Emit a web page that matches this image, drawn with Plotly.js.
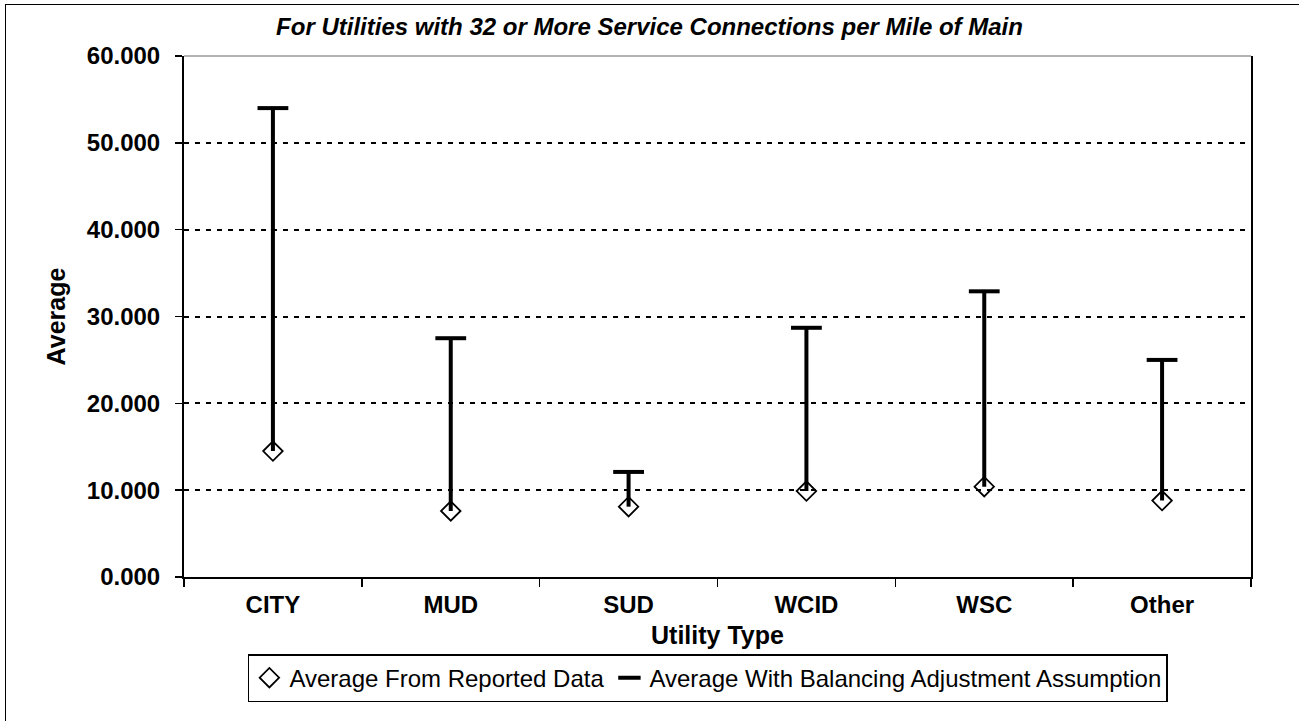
<!DOCTYPE html>
<html>
<head>
<meta charset="utf-8">
<script src="https://cdn.plot.ly/plotly-3.0.1.min.js"></script>
<style>
  html, body { margin: 0; padding: 0; background: #fff; }
  #wrap { position: relative; width: 1299px; height: 721px; overflow: hidden; }
  #chart { width: 1299px; height: 721px; }
  #frame { position: absolute; left: 5px; top: 4px; width: 1400px; height: 800px;
           border: 1.5px solid #000; pointer-events: none; box-sizing: border-box; }
</style>
</head>
<body>
<div id="wrap">
  <div id="chart"></div>
  <div id="frame"></div>
</div>
<script>
// ---- data ----
const categories = ['CITY', 'MUD', 'SUD', 'WCID', 'WSC', 'Other'];
const reportedAvg = [14.5, 7.6, 8.1, 9.9, 10.4, 8.8];
const balancingAvg = [54.0, 27.5, 12.1, 28.7, 32.9, 25.0];
const yTickVals = [0, 10, 20, 30, 40, 50, 60];
const seriesNames = ['Average From Reported Data', 'Average With Balancing Adjustment Assumption'];
const chartTitle = 'For Utilities with 32 or More Service Connections per Mile of Main';
const xTitle = 'Utility Type';
const yTitle = 'Average';

// high-low connector lines built from the data
const hlX = [], hlY = [];
categories.forEach((c, i) => {
  hlX.push(c, c, null);
  hlY.push(reportedAvg[i], balancingAvg[i], null);
});

const FONT = 'Arial, "Liberation Sans", sans-serif';

const traces = [
  {
    type: 'scatter', mode: 'lines', x: hlX, y: hlY,
    line: { color: '#000', width: 4 }, showlegend: false, hoverinfo: 'skip'
  },
  {
    type: 'scatter', mode: 'markers', name: seriesNames[0],
    x: categories, y: reportedAvg,
    marker: { symbol: 'diamond-open', size: 15, color: '#000', line: { color: '#000', width: 1.8 } }
  },
  {
    type: 'scatter', mode: 'markers', name: seriesNames[1],
    x: categories, y: balancingAvg,
    marker: { symbol: 'line-ew', size: 22, color: '#000', line: { color: '#000', width: 4 } }
  }
];

const layout = {
  width: 1299, height: 721,
  margin: { l: 184, r: 48, t: 56, b: 144 },
  paper_bgcolor: '#fff', plot_bgcolor: '#fff',
  font: { family: FONT, color: '#000' },
  title: {
    text: '<b><i>' + chartTitle + '</i></b>',
    font: { family: FONT, size: 24, color: '#000' },
    x: 0.5, xref: 'container', xanchor: 'center',
    y: 1 - 27 / 721, yref: 'container', yanchor: 'middle'
  },
  xaxis: {
    type: 'category', categoryorder: 'array', categoryarray: categories,
    range: [-0.5, 5.5], tickson: 'boundaries',
    ticks: 'outside', ticklen: 8, tickwidth: 1.5, tickcolor: '#000',
    ticklabelstandoff: 5,
    showline: true, linecolor: '#000', linewidth: 2,
    showgrid: false, zeroline: false,
    tickfont: { family: FONT, size: 24, color: '#000', weight: 'bold' },
    title: { text: '<b>' + xTitle + '</b>', font: { family: FONT, size: 25, color: '#000' }, standoff: 10 }
  },
  yaxis: {
    range: [0, 60], tickvals: yTickVals, tickformat: '.3f',
    ticks: 'outside', ticklen: 7, tickwidth: 1.5, tickcolor: '#000',
    ticklabelstandoff: 10,
    showline: true, linecolor: '#000', linewidth: 2, mirror: true,
    showgrid: true, gridcolor: '#000', gridwidth: 2, griddash: '5px,6px',
    zeroline: false,
    tickfont: { family: FONT, size: 24, color: '#000', weight: 'bold' },
    title: { text: '<b>' + yTitle + '</b>', font: { family: FONT, size: 25, color: '#000' }, standoff: 14 }
  },
  legend: {
    orientation: 'h', x: 0.491, xanchor: 'center', y: -0.148, yanchor: 'top',
    bordercolor: '#000', borderwidth: 1.5, bgcolor: '#fff',
    font: { family: FONT, size: 24, color: '#000' },
    itemwidth: 30, tracegroupgap: 0
  },
  shapes: [
    { type: 'line', xref: 'paper', yref: 'paper', x0: 0, x1: 1, y0: 1, y1: 1,
      line: { color: '#666', width: 1 }, layer: 'below' }
  ],
  showlegend: true
};

Plotly.newPlot('chart', traces, layout, { displayModeBar: false, staticPlot: true });
</script>
</body>
</html>
